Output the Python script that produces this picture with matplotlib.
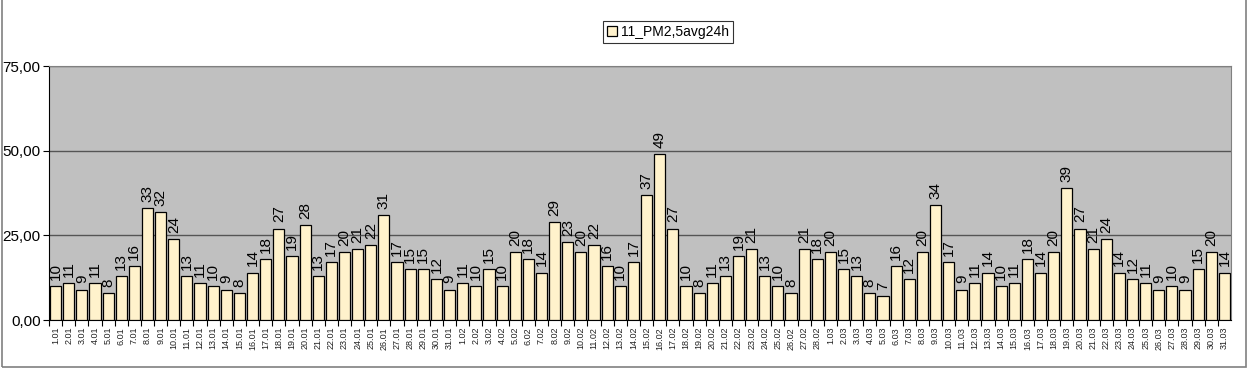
import numpy as np
import matplotlib.pyplot as plt
from matplotlib.patches import Rectangle

plt.rcParams['font.family'] = ['Liberation Sans', 'DejaVu Sans']

# daily PM2.5 24h averages, Jan-Mar
jan = [10, 11, 9, 11, 8, 13, 16, 33, 32, 24, 13, 11, 10, 9, 8, 14, 18, 27, 19, 28,
       13, 17, 20, 21, 22, 31, 17, 15, 15, 12, 9]
feb = [11, 10, 15, 10, 20, 18, 14, 29, 23, 20, 22, 16, 10, 17, 37, 49, 27, 10, 8, 11,
       13, 19, 21, 13, 10, 8, 21, 18]
mar = [20, 15, 13, 8, 7, 16, 12, 20, 34, 17, 9, 11, 14, 10, 11, 18, 14, 20, 39, 27,
       21, 24, 14, 12, 11, 9, 10, 9, 15, 20, 14]

days = ["%d.01" % d for d in range(1, 32)] + ["%d.02" % d for d in range(1, 29)] \
    + ["%d.03" % d for d in range(1, 32)]
values = jan + feb + mar
series_name = "11_PM2,5avg24h"
yticks = [0, 25, 50, 75]

fig = plt.figure(figsize=(12.49, 3.68), dpi=100)
ax = fig.add_axes([49 / 1249, 1 - 320 / 368, (1231 - 49) / 1249, (320 - 66) / 368])

x = np.arange(len(values))
bars = ax.bar(x, values, width=0.85, color='#fff2cc', edgecolor='#000000',
              linewidth=0.9, label=series_name, zorder=3)

for xi, v in zip(x, values):
    ax.text(xi, v + 1.8, "%d" % v, rotation=90, ha='center', va='bottom',
            fontsize=11, color='#000000', zorder=4)

ax.set_facecolor('#c0c0c0')
ax.set_xlim(-0.5, len(values) - 0.5)
ax.set_ylim(0, 75)
ax.set_yticks(yticks)
ax.set_yticklabels(["%d,00" % t for t in yticks], fontsize=11)
ax.yaxis.grid(True, color='#555555', linewidth=1, zorder=1)
ax.set_axisbelow(True)

# ticks between categories, labels under bars
ax.set_xticks(x - 0.5, minor=False)
ax.set_xticklabels([])
ax.set_xticks(x, minor=True)
ax.set_xticklabels(days, minor=True, rotation=90, fontsize=6.5, color='#222222')
ax.tick_params(axis='x', which='major', length=4, direction='out', color='#000000')
ax.tick_params(axis='x', which='minor', length=0, pad=5)
ax.tick_params(axis='y', length=4, direction='out', pad=2)

for s in ['top', 'right']:
    ax.spines[s].set_color('#808080')
ax.spines['left'].set_color('#000000')
ax.spines['bottom'].set_color('#000000')

leg = fig.legend(handles=[bars], labels=[series_name], loc='center',
                 bbox_to_anchor=(668 / 1249, 1 - 32 / 368), fontsize=10,
                 frameon=True, fancybox=False, handlelength=0.7, handleheight=0.7,
                 handletextpad=0.3, borderpad=0.3)
leg.get_frame().set_edgecolor('#000000')
leg.get_frame().set_linewidth(0.8)

# outer chart frame
fig.patches.append(Rectangle((2 / 1249, 1 / 368), 1244 / 1249, 1.2, transform=fig.transFigure,
                             fill=False, edgecolor='#808080', linewidth=1.2))

fig.savefig("out.png", dpi=100)
